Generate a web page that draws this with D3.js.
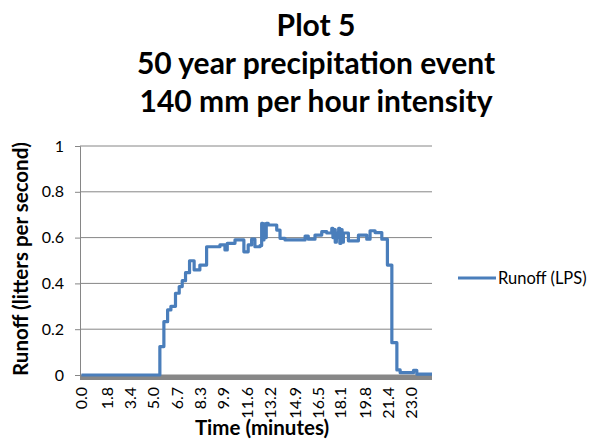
<!DOCTYPE html>
<html>
<head>
<meta charset="utf-8">
<script src="https://cdn.jsdelivr.net/npm/d3@7"></script>
<style>
  body { margin: 0; background: #fff; }
  text { font-family: Lato, "Open Sans", sans-serif; fill: #000; }
</style>
</head>
<body>
<svg id="chart" width="589" height="439"></svg>
<script>
// title lines
const titleLines = ['Plot 5', '50 year precipitation event', '140 mm per hour intensity'];

// step breakpoints: time (minutes) where each level starts
const times = [
  0, 5.47, 5.75, 6.01, 6.24, 6.56, 6.82, 7.03, 7.26, 7.54, 7.86, 8.26,
  8.73, 9.66, 10.01, 10.17, 10.71, 11.33, 11.63, 11.87, 12.10, 12.45,
  12.57, 12.65, 12.73, 12.81, 12.89, 13.03, 13.62, 13.85, 14.20,
  15.60, 15.82, 16.29, 16.76, 17.11,
  17.46, 17.54, 17.62, 17.70, 17.78, 17.86, 17.94, 18.02, 18.10, 18.18,
  18.27, 18.62, 19.32, 19.90, 20.13, 20.48, 20.95, 21.34, 21.65, 22.00,
  22.23, 23.16, 23.39, 24.45
];
const runoff = [
  0, 0.124, 0.233, 0.284, 0.300, 0.357, 0.386, 0.412, 0.447, 0.499, 0.459, 0.480,
  0.560, 0.568, 0.546, 0.575, 0.590, 0.538, 0.568, 0.593, 0.560, 0.565,
  0.662, 0.590, 0.660, 0.600, 0.662, 0.655, 0.633, 0.597, 0.590,
  0.607, 0.593, 0.611, 0.626, 0.620,
  0.640, 0.600, 0.635, 0.580, 0.620, 0.600, 0.640, 0.575, 0.635, 0.580,
  0.620, 0.586, 0.611, 0.593, 0.630, 0.622, 0.593, 0.480, 0.141, 0.022,
  0.010, 0.020, 0.004, 0.004
];

const xTickLabels = ['0.0', '1.8', '3.4', '5.0', '6.7', '8.3', '9.9', '11.6', '13.2', '14.9', '16.5', '18.1', '19.8', '21.4', '23.0'];
const yTicks = [0, 0.2, 0.4, 0.6, 0.8, 1];

const svg = d3.select('#chart');
const plot = { left: 80, right: 432, top: 146, bottom: 375 };

const x = d3.scaleLinear().domain([-0.1, 24.45]).range([plot.left, plot.right]);
const y = d3.scaleLinear().domain([0, 1]).range([plot.bottom, plot.top]);

// title
svg.append('g')
  .selectAll('text')
  .data(titleLines)
  .join('text')
  .attr('x', 316)
  .attr('y', (d, i) => 36 + i * 38)
  .attr('text-anchor', 'middle')
  .attr('font-size', 30)
  .attr('font-weight', 'bold')
  .text(d => d);

// gridlines
svg.append('g')
  .selectAll('line')
  .data(yTicks.filter(d => d > 0))
  .join('line')
  .attr('x1', plot.left)
  .attr('x2', plot.right)
  .attr('y1', d => y(d))
  .attr('y2', d => y(d))
  .attr('stroke', '#868686')
  .attr('stroke-width', 1);

// y axis
const yAxis = svg.append('g')
  .attr('transform', `translate(${plot.left},0)`)
  .call(d3.axisLeft(y).tickValues(yTicks).tickSize(5).tickPadding(11).tickFormat(d3.format('')));
yAxis.select('.domain').attr('stroke', '#868686');
yAxis.selectAll('.tick line').attr('stroke', '#868686');
yAxis.selectAll('.tick text')
  .attr('font-family', 'Lato, sans-serif')
  .attr('font-size', 16)
  .attr('fill', '#000');

// thick x axis band
svg.append('rect')
  .attr('x', plot.left)
  .attr('y', plot.bottom - 0.5)
  .attr('width', plot.right - plot.left)
  .attr('height', 5.5)
  .attr('fill', '#878787');

// x tick labels (rotated)
svg.append('g')
  .selectAll('text')
  .data(xTickLabels)
  .join('text')
  .attr('transform', d => `translate(${x(+d) + 5.5},387) rotate(-90)`)
  .attr('text-anchor', 'end')
  .attr('font-size', 16)
  .text(d => d);

// runoff line
const pts = times.map((t, i) => [t, runoff[i]]);
svg.append('path')
  .datum(pts)
  .attr('fill', 'none')
  .attr('stroke', '#4a7ebb')
  .attr('stroke-width', 3.2)
  .attr('stroke-linejoin', 'round')
  .attr('d', d3.line().x(d => x(d[0])).y(d => y(d[1])).curve(d3.curveStepAfter));

// axis titles
svg.append('text')
  .attr('x', 262)
  .attr('y', 435)
  .attr('text-anchor', 'middle')
  .attr('font-size', 20.5)
  .attr('font-weight', 'bold')
  .text('Time (minutes)');

svg.append('text')
  .attr('transform', 'translate(28,259) rotate(-90)')
  .attr('text-anchor', 'middle')
  .attr('font-size', 20.5)
  .attr('font-weight', 'bold')
  .text('Runoff (litters per second)');

// legend
const legend = svg.append('g').attr('transform', 'translate(458,278)');
legend.append('line')
  .attr('x1', 0).attr('x2', 38)
  .attr('y1', 0).attr('y2', 0)
  .attr('stroke', '#4a7ebb')
  .attr('stroke-width', 3.2);
legend.append('text')
  .attr('x', 40)
  .attr('y', 6)
  .attr('font-size', 16.5)
  .text('Runoff (LPS)');
</script>
</body>
</html>
